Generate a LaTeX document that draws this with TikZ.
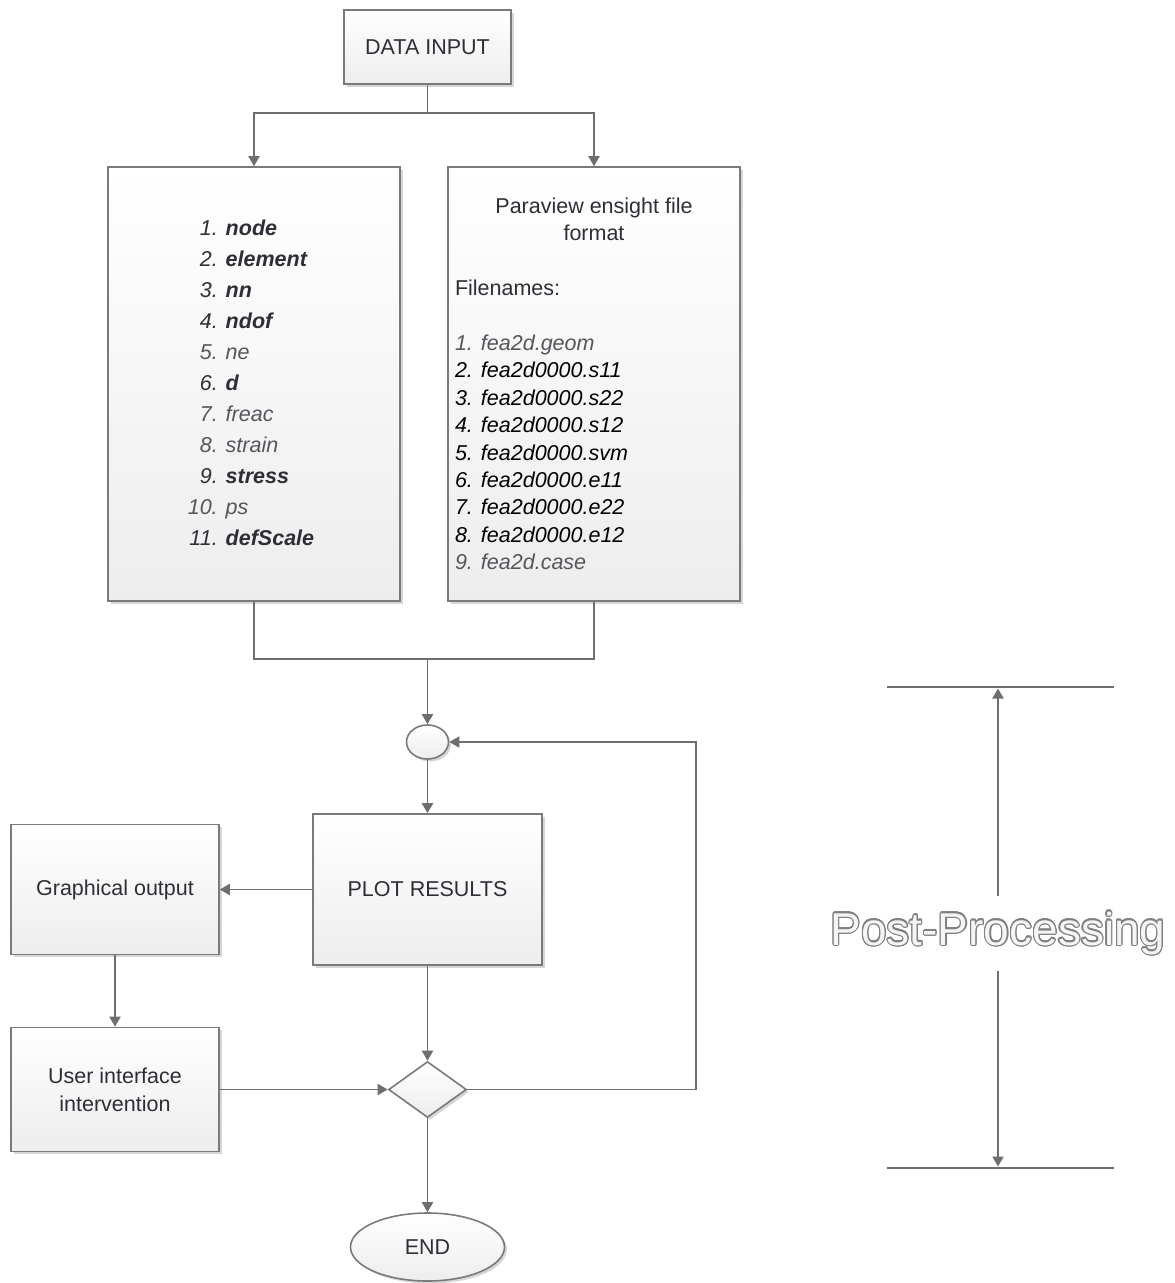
\documentclass[tikz,border=0pt]{standalone}
\usepackage{fontspec}
\setmainfont{Liberation Sans}
\usepackage{contour}
\usetikzlibrary{arrows.meta,shapes.geometric,shadows}
\definecolor{ln}{HTML}{6E6E6E}
\definecolor{bd}{HTML}{7A7A7A}
\definecolor{tx}{HTML}{2E2E36}
\definecolor{lt}{HTML}{55555C}
\newcommand\rowb[2]{\textit{#1.} & \textbf{\textit{#2}}\\}
\newcommand\rowl[2]{\textcolor{lt}{\textit{#1.}} & \textcolor{lt}{\textit{#2}}\\}
\newcommand\fitem[3]{\textcolor{#1}{\textit{\makebox[26pt][l]{#2.}#3}}\\}
\contourlength{1.1pt}
\begin{document}
\begin{tikzpicture}[x=1pt,y=-1pt,
  font=\fontsize{21.5}{27}\selectfont,
  box/.style={draw=bd, line width=1.6pt, top color=white, bottom color=black!7,
    drop shadow={shadow xshift=2.5pt, shadow yshift=-2.5pt, opacity=0.16, fill=black},
    text=tx, inner sep=0pt, align=center},
  conn/.style={draw=ln, line width=1.9pt},
  arr/.style={conn, -{Triangle[width=11pt,length=10pt]}},
]
\useasboundingbox (0,0) rectangle (1175,1283);

% nodes
\node[box, minimum width=167pt, minimum height=74pt] (di) at (427.5,47) {DATA INPUT};

\node[box, minimum width=292pt, minimum height=434pt, font=\fontsize{21.5}{31}\selectfont] (lb) at (254,384)
{\begin{tabular}{@{}r@{\hspace{8pt}}l@{}}
\rowb{1}{node}
\rowb{2}{element}
\rowb{3}{nn}
\rowb{4}{ndof}
\rowl{5}{ne}
\rowb{6}{d}
\rowl{7}{freac}
\rowl{8}{strain}
\rowb{9}{stress}
\rowl{10}{ps}
\rowb{11}{defScale}
\end{tabular}\hspace*{6pt}};

\node[box, minimum width=292pt, minimum height=434pt, font=\fontsize{21.5}{27.4}\selectfont] (rb) at (594,384)
{\begin{minipage}{278pt}
\centering Paraview ensight file\\ format\par
\vspace{27.4pt}
\raggedright Filenames:\par
\vspace{27.4pt}
\fitem{lt}{1}{fea2d.geom}
\fitem{black}{2}{fea2d0000.s11}
\fitem{black}{3}{fea2d0000.s22}
\fitem{black}{4}{fea2d0000.s12}
\fitem{black}{5}{fea2d0000.svm}
\fitem{black}{6}{fea2d0000.e11}
\fitem{black}{7}{fea2d0000.e22}
\fitem{black}{8}{fea2d0000.e12}
\textcolor{lt}{\textit{\makebox[26pt][l]{9.}fea2d.case}}
\end{minipage}};

\node[box, ellipse, minimum width=42pt, minimum height=34pt] (ci) at (427.5,742) {};
\node[box, minimum width=229pt, minimum height=151pt] (pr) at (427.5,889.5) {PLOT RESULTS};
\node[box, minimum width=208pt, minimum height=130pt] (go) at (115,889.5) {Graphical output};
\node[box, minimum width=208pt, minimum height=124pt, font=\fontsize{21.5}{28}\selectfont] (ui) at (115,1089.5) {User interface\\intervention};
\node[box, diamond, minimum width=78pt, minimum height=56pt] (dm) at (427.5,1089.5) {};
\node[box, ellipse, minimum width=154pt, minimum height=68pt] (en) at (427.5,1247) {END};

% connectors
\coordinate (split) at (0,113);
\coordinate (merge) at (0,659);
\coordinate (loopx) at (696,0);
\draw[conn] (di.south) -- (di.south |- split);
\draw[arr] (di.south |- split) -| (lb.north);
\draw[arr] (di.south |- split) -| (rb.north);
\draw[conn] (lb.south) -- (lb.south |- merge) -- (rb.south |- merge) -- (rb.south);
\draw[arr] (ci.north |- merge) -- (ci.north);
\draw[arr] (ci.south) -- (pr.north);
\draw[arr] (pr.west) -- (go.east);
\draw[arr] (go.south) -- (ui.north);
\draw[arr] (ui.east) -- (dm.west);
\draw[arr] (pr.south) -- (dm.north);
\draw[arr] (dm.east) -- (dm.east -| loopx) -- (ci.east -| loopx) -- (ci.east);
\draw[arr] (dm.south) -- (en.north);

% post-processing marker
\coordinate (tl) at (887,687);
\coordinate (tr) at (1114,687);
\coordinate (bl) at (887,1168);
\coordinate (br) at (1114,1168);
\draw[conn, line width=1.6pt] (tl) -- (tr);
\draw[conn, line width=1.6pt] (bl) -- (br);
\node[anchor=base, inner xsep=0pt, inner ysep=15pt, font=\fontsize{46}{50}\selectfont] (pp) at (998,945)
  {\color{white!96!black}\contour{black!50}{Post-Processing}};
\draw[arr] (pp.north) -- ([yshift=-1.5pt]pp.north |- tl);
\draw[arr] (pp.south) -- ([yshift=1.5pt]pp.south |- bl);
\end{tikzpicture}
\end{document}
